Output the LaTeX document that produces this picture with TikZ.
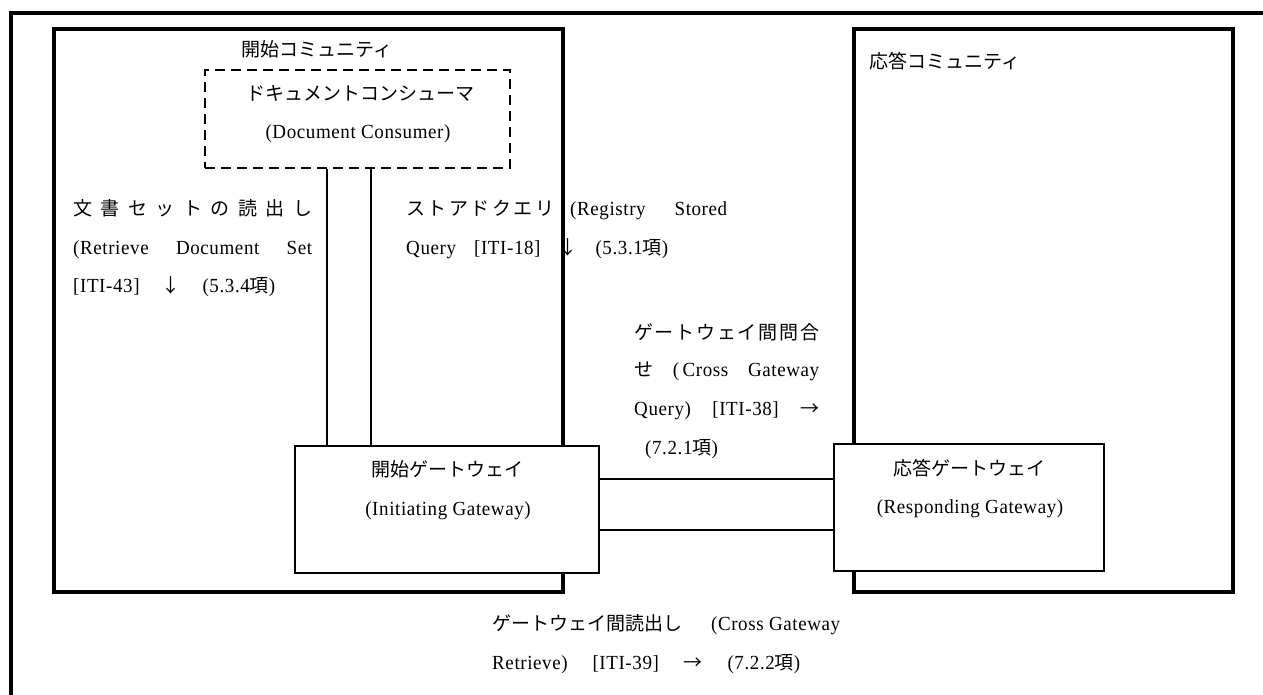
\documentclass[tikz,border=0pt]{standalone}
\usepackage{fontspec}
\setmainfont{Liberation Serif}[LetterSpace=3, FakeStretch=0.95]
\newfontfamily\jp{Noto Sans CJK JP}[Scale=0.95]
\newcommand\fsz{\fontsize{20}{20}\selectfont}
\newcommand\fl{\hskip 0pt plus 1fil}
\newcommand\ws{\hskip 5pt plus 1fil}
\newcommand\ks{\hskip 2.5pt}
\begin{document}
\begin{tikzpicture}[x=1pt,y=-1pt,
  txt/.style={inner sep=0pt, text height=14pt, text depth=0pt, font=\fsz},
  community/.style={draw, line width=3.5pt, inner sep=0pt},
  gatebox/.style={draw, fill=white, line width=2.5pt, inner sep=0pt},
  actorbox/.style={draw, dash pattern=on 10pt off 6pt, line width=2.5pt, inner sep=0pt},
  link/.style={line width=1.5pt},
  frame/.style={line width=4pt}]
\useasboundingbox (0,0) rectangle (1263,695);
% outer frame (clipped at right and bottom)
\coordinate (fbl) at (11,697);
\coordinate (ftr) at (1265,13);
\draw[frame] (fbl) |- (ftr);

% labels
\node[txt, anchor=west] (icl) at (241,50) {{\jp 開始コミュニティ}};
\node[txt] (dcj) at (360,94) {{\jp ドキュメントコンシューマ}};
\node[txt] (dce) at (358,132) {(Document Consumer)};
\node[txt, anchor=west] (rd1) at (73,208) {\hbox to 239pt{\jp 文\fl 書\fl セ\fl ッ\fl ト\fl の\fl 読\fl 出\fl し}};
\node[txt, anchor=west] (rd2) at (73,247) {\hbox to 239pt{(Retrieve\fl Document\fl Set}};
\node[txt, anchor=west] (rd3) at (73,285) {\hbox to 202pt{[ITI-43]\ws{\jp ↓}\ws(5.3.4{\jp 項})}};
\node[txt, anchor=west] (sq1) at (406,208) {{\jp ス\ks ト\ks ア\ks ド\ks ク\ks エ\ks リ}\hskip 16pt\hbox to 157pt{(Registry\fl Stored}};
\node[txt, anchor=west] (sq2) at (406,247) {\hbox to 262pt{Query\ws[ITI-18]\ws{\jp ↓}\ws(5.3.1{\jp 項})}};
\node[txt, anchor=west] (cq1) at (634,332) {\hbox to 185pt{\jp ゲ\fl ー\fl ト\fl ウ\fl ェ\fl イ\fl 間\fl 問\fl 合}};
\node[txt, anchor=west] (cq2) at (634,369) {\hbox to 185pt{{\jp せ}\ws (\,Cross\ws Gateway}};
\node[txt, anchor=west] (cq3) at (634,408) {\hbox to 185pt{Query)\ws [ITI-38]\ws {\jp →}}};
\node[txt, anchor=west] (cq4) at (645,447) {(7.2.1{\jp 項})};
\node[txt, anchor=west] (rcl) at (869,62) {{\jp 応答コミュニティ}};
\node[txt, anchor=west] (cr1) at (492,623) {\hbox to 348pt{{\jp ゲートウェイ間読出し}\ws (Cross Gateway}};
\node[txt, anchor=west] (cr2) at (492,662) {\hbox to 308pt{Retrieve)\ws [ITI-39]\ws {\jp →}\ws (7.2.2{\jp 項})}};

% communities
\node[community, minimum width=509pt, minimum height=563pt] (ic) at (308.5,310.5) {};
\node[community, minimum width=379pt, minimum height=563pt] (rc) at (1043.5,310.5) {};

% actor
\node[actorbox, minimum width=305pt, minimum height=98pt] (dc) at (357.5,119) {};

% gateways (positions only; drawn after connectors)
\path (447,509.5) node[minimum width=304pt, minimum height=127pt, inner sep=0pt] (ig) {};
\path (969,507.5) node[minimum width=270pt, minimum height=127pt, inner sep=0pt] (rg) {};

% connectors
\coordinate (q1) at (327,0);
\coordinate (q2) at (371,0);
\coordinate (h1) at (0,479);
\coordinate (h2) at (0,530);
\draw[link] (dc.south -| q1) -- (ig.north -| q1);
\draw[link] (dc.south -| q2) -- (ig.north -| q2);
\draw[link] (ig.east |- h1) -- (rg.west |- h1);
\draw[link] (ig.east |- h2) -- (rg.west |- h2);

% gateway boxes
\node[gatebox, minimum width=304pt, minimum height=127pt] (igb) at (ig.center) {};
\node[gatebox, minimum width=270pt, minimum height=127pt] (rgb) at (rg.center) {};
\node[txt] (igj) at (447,469) {{\jp 開始ゲートウェイ}};
\node[txt] (ige) at (448,508) {(Initiating Gateway)};
\node[txt] (rgj) at (969,468) {{\jp 応答ゲートウェイ}};
\node[txt] (rge) at (970,506) {(Responding Gateway)};
\end{tikzpicture}
\end{document}
